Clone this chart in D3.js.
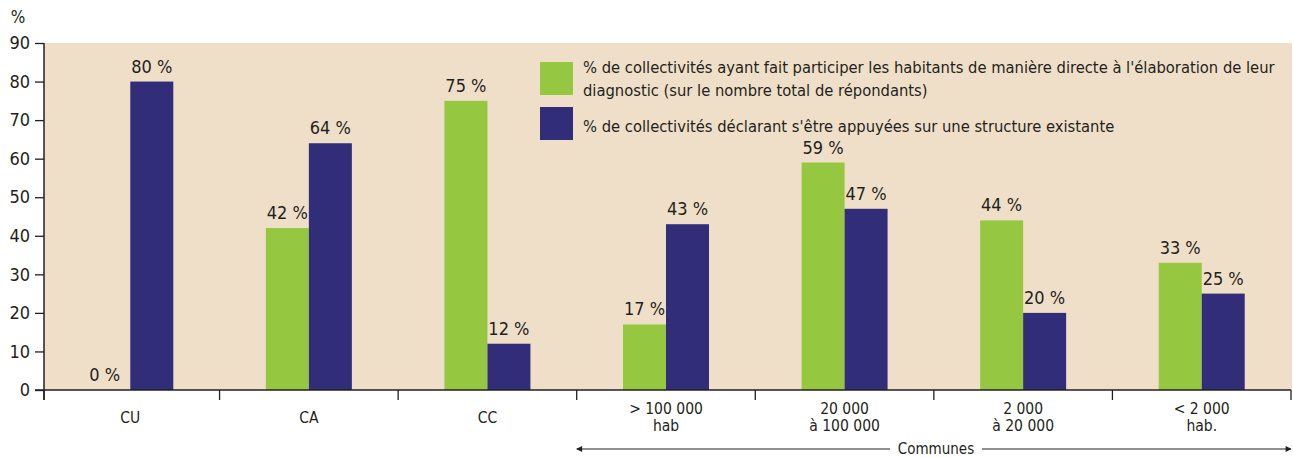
<!DOCTYPE html>
<html>
<head>
<meta charset="utf-8">
<script src="https://cdn.jsdelivr.net/npm/d3@7"></script>
<style>
  body { margin: 0; background: #ffffff; }
  text { font-family: "DejaVu Sans Condensed", "DejaVu Sans", sans-serif; font-stretch: condensed; fill: #231f20; }
</style>
</head>
<body>
<div id="chart"></div>
<script>
// categories (two-line labels split by \n)
const categories = ['CU', 'CA', 'CC', '> 100 000\nhab', '20 000\nà 100 000', '2 000\nà 20 000', '< 2 000\nhab.'];
const participation = [0, 42, 75, 17, 59, 44, 33];
const structure = [80, 64, 12, 43, 47, 20, 25];
const seriesNames = [
  ['% de collectivités ayant fait participer les habitants de manière directe à l\'élaboration de leur',
   'diagnostic (sur le nombre total de répondants)'],
  ['% de collectivités déclarant s\'être appuyées sur une structure existante'],
];
const yTicks = [0, 10, 20, 30, 40, 50, 60, 70, 80, 90];
const groupLabel = 'Communes';

const colors = ['#95c840', '#312d78'];
const width = 1293;
const height = 457;
const margin = { top: 43, right: 1, bottom: 67, left: 44 };

const svg = d3.select('#chart')
  .append('svg')
  .attr('width', width)
  .attr('height', height);

svg.append('defs').append('marker')
  .attr('id', 'arrow')
  .attr('viewBox', '0 0 10 10')
  .attr('refX', 9)
  .attr('refY', 5)
  .attr('markerWidth', 9)
  .attr('markerHeight', 6)
  .attr('markerUnits', 'userSpaceOnUse')
  .attr('orient', 'auto-start-reverse')
  .append('path')
  .attr('d', 'M0,0 L10,5 L0,10 Z')
  .attr('fill', '#231f20');

const x0 = d3.scaleBand()
  .domain(d3.range(categories.length))
  .range([41, width - 2])
  .padding(0);

const barW = 43;
const x1 = d3.scaleBand()
  .domain([0, 1])
  .range([x0.bandwidth() / 2 - barW, x0.bandwidth() / 2 + barW]);

const y = d3.scaleLinear()
  .domain([0, 90])
  .range([height - margin.bottom, margin.top]);

// background
svg.append('rect')
  .attr('x', margin.left)
  .attr('y', y(90))
  .attr('width', width - margin.left - margin.right)
  .attr('height', y(0) - y(90))
  .attr('fill', '#f0dfc8');

const data = categories.map((c, i) => ({ i, values: [participation[i], structure[i]] }));

const groups = svg.selectAll('.grp')
  .data(data)
  .enter()
  .append('g')
  .attr('transform', d => `translate(${x0(d.i)},0)`);

groups.selectAll('rect')
  .data(d => d.values.map((v, k) => ({ v, k })))
  .enter()
  .append('rect')
  .attr('x', d => x1(d.k))
  .attr('width', x1.bandwidth())
  .attr('y', d => y(d.v))
  .attr('height', d => y(0) - y(d.v))
  .attr('fill', d => colors[d.k]);

groups.selectAll('.val')
  .data(d => d.values.map((v, k) => ({ v, k })))
  .enter()
  .append('text')
  .attr('x', d => x1(d.k) + x1.bandwidth() / 2 - (d.v === 0 ? 4 : 0))
  .attr('y', d => y(d.v) - 9)
  .attr('text-anchor', 'middle')
  .style('font-size', '18px')
  .text(d => `${d.v} %`);

// y axis
const yAxis = svg.append('g')
  .attr('transform', `translate(${margin.left},0)`)
  .call(d3.axisLeft(y).tickValues(yTicks).tickSize(9).tickPadding(5));
yAxis.select('.domain').attr('stroke', '#231f20').attr('stroke-width', 1.5)
  .attr('d', `M0,${y(90)}V${y(0) + 10}`);
yAxis.selectAll('.tick line').attr('stroke', '#231f20').attr('stroke-width', 1.3);
yAxis.selectAll('.tick text').style('font-size', '18px').attr('fill', '#231f20')
  .attr('font-family', null);

svg.append('text')
  .attr('x', 18)
  .attr('y', 23)
  .attr('text-anchor', 'middle')
  .style('font-size', '17px')
  .text('%');

// x axis baseline
const bounds = d3.range(categories.length + 1)
  .map(i => (i === 0 ? margin.left : (i < categories.length ? x0(i) : x0.range()[1])));
svg.append('line')
  .attr('x1', margin.left - 9)
  .attr('x2', x0.range()[1])
  .attr('y1', y(0))
  .attr('y2', y(0))
  .attr('stroke', '#231f20')
  .attr('stroke-width', 1.5);

svg.selectAll('.xtick')
  .data(bounds)
  .enter()
  .append('line')
  .attr('x1', d => d)
  .attr('x2', d => d)
  .attr('y1', y(0))
  .attr('y2', y(0) + 10)
  .attr('stroke', '#231f20')
  .attr('stroke-width', 1.3);

const catLabels = svg.selectAll('.cat')
  .data(categories)
  .enter()
  .append('text')
  .attr('text-anchor', 'middle')
  .style('font-size', '15.5px')
  .attr('transform', (d, i) => `translate(${x0(i) + x0.bandwidth() / 2},0)`);

catLabels.each(function (d) {
  const lines = d.split('\n');
  const el = d3.select(this);
  lines.forEach((line, j) => {
    el.append('tspan')
      .attr('x', 0)
      .attr('y', lines.length === 1 ? 423 : 414 + j * 17)
      .text(line);
  });
});

// Communes arrow
const arrowY = 449;
const arrowStart = x0(3);
const arrowEnd = x0.range()[1];
const labelMid = 936;
svg.append('line')
  .attr('x1', labelMid - 46)
  .attr('x2', arrowStart)
  .attr('y1', arrowY)
  .attr('y2', arrowY)
  .attr('stroke', '#231f20')
  .attr('stroke-width', 1.2)
  .attr('marker-end', 'url(#arrow)');
svg.append('line')
  .attr('x1', labelMid + 46)
  .attr('x2', arrowEnd)
  .attr('y1', arrowY)
  .attr('y2', arrowY)
  .attr('stroke', '#231f20')
  .attr('stroke-width', 1.2)
  .attr('marker-end', 'url(#arrow)');
svg.append('text')
  .attr('x', labelMid)
  .attr('y', arrowY + 5)
  .attr('text-anchor', 'middle')
  .style('font-size', '15px')
  .text(groupLabel);

// legend
const legend = svg.append('g').attr('transform', 'translate(540,62)');
const legendRows = [0, 45];
seriesNames.forEach((lines, k) => {
  legend.append('rect')
    .attr('x', 0)
    .attr('y', legendRows[k])
    .attr('width', 33)
    .attr('height', 33)
    .attr('fill', colors[k]);
  lines.forEach((line, j) => {
    legend.append('text')
      .attr('x', 43)
      .attr('y', legendRows[k] + (lines.length === 1 ? 25 : 11 + j * 23))
      .style('font-size', '16.4px')
      .text(line);
  });
});
</script>
</body>
</html>
